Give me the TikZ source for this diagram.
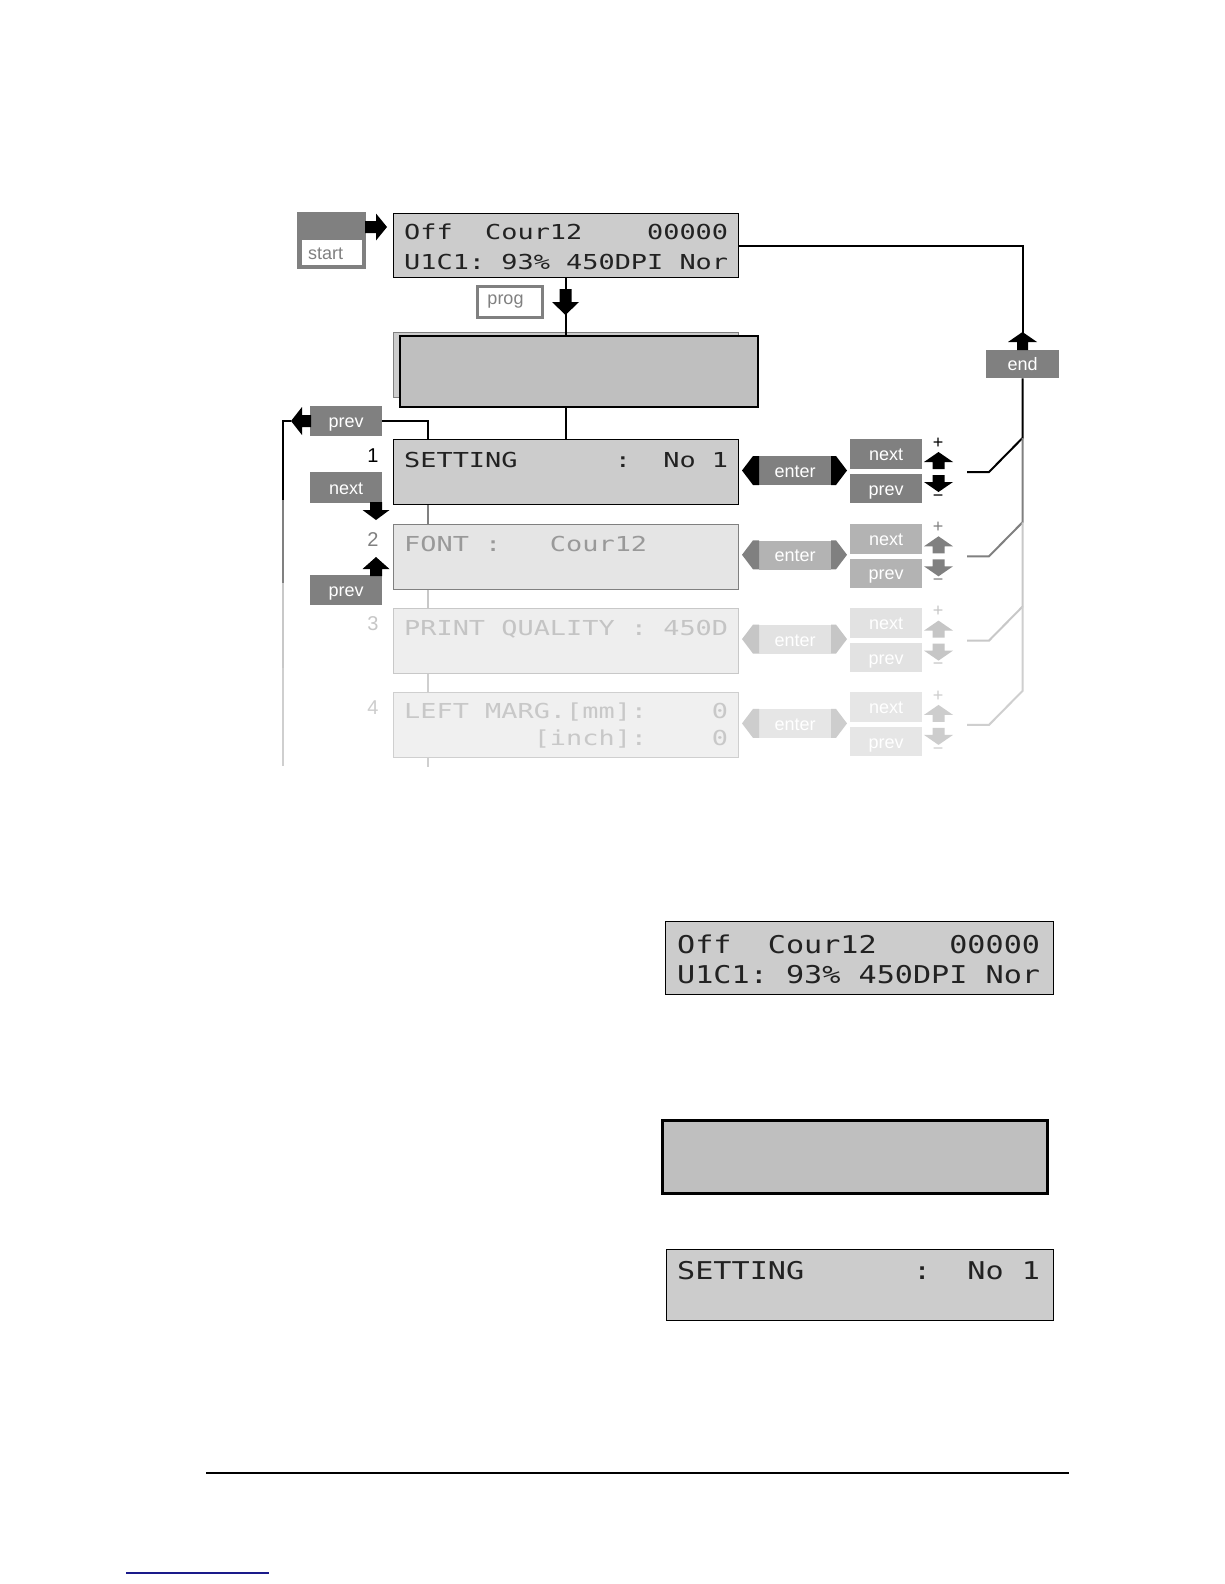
\documentclass[tikz,border=0pt]{standalone}
\usepackage{fontspec}
\setmainfont{Liberation Sans}
\newfontfamily\lcdA[FakeStretch=1.306]{DejaVu Sans Mono}
\newfontfamily\lcdB[FakeStretch=1.23]{DejaVu Sans Mono}
\usetikzlibrary{calc}
\definecolor{bA}{HTML}{808080}
\definecolor{bB}{HTML}{B3B3B3}
\definecolor{bC}{HTML}{E2E2E2}
\definecolor{bD}{HTML}{E6E6E6}
\definecolor{aA}{HTML}{000000}
\definecolor{aB}{HTML}{808080}
\definecolor{aC}{HTML}{C6C6C6}
\definecolor{aD}{HTML}{CDCDCD}
\definecolor{lB}{HTML}{808080}
\definecolor{lC}{HTML}{C8C8C8}
\definecolor{lD}{HTML}{CFCFCF}
\definecolor{fA}{HTML}{CCCCCC}
\definecolor{fB}{HTML}{E5E5E5}
\definecolor{fC}{HTML}{EEEEEE}
\definecolor{fD}{HTML}{F0F0F0}
\definecolor{tA}{HTML}{222222}
\definecolor{tB}{HTML}{999999}
\definecolor{tC}{HTML}{C4C4C4}
\definecolor{tD}{HTML}{C8C8C8}
\definecolor{navy}{HTML}{1A1A8A}
% color, tip, angle, head length, head half width, shaft length, shaft half width
\newcommand\barrow[7]{%
  \fill[#1,shift={#2},rotate=#3] (0,0) -- (-#4,#5) -- (-#4,#7) -- (-#4-#6,#7) -- (-#4-#6,-#7) -- (-#4,-#7) -- (-#4,-#5) -- cycle;}
\tikzset{
  lcdbox/.style={draw=black, line width=1pt, fill=fA, inner sep=0, anchor=north west, minimum width=345pt, minimum height=65pt},
  lcdtext/.style={anchor=base west, inner sep=0, font=\fontsize{20.6}{20.6}\lcdA},
  lcdtextB/.style={anchor=base west, inner sep=0, font=\fontsize{24.5}{24.5}\lcdB},
  btn/.style={fill=#1, text=white, inner sep=0, anchor=north west, minimum width=72pt, minimum height=30pt, text height=13.5pt, text depth=0pt, font=\fontsize{18}{18}\selectfont},
  numlbl/.style={inner sep=0, font=\fontsize{20}{20}\selectfont},
  pm/.style={inner sep=0, font=\fontsize{18}{18}\selectfont},
  conn/.style={line width=2pt},
}
\begin{document}
\begin{tikzpicture}[x=1pt,y=-1pt]
\useasboundingbox (0,0) rectangle (1224,1584);
\fill[white] (0,0) rectangle (1224,1584);

% ---------- top display and start ----------
\node[fill=bA, anchor=north west, minimum width=69pt, minimum height=57pt, inner sep=0] (startbox) at (297,212) {};
\node[fill=white, anchor=north west, minimum width=60pt, minimum height=25pt, inner sep=0] (startin) at (302,240) {};
\node[anchor=west, inner sep=0, text=bA, font=\fontsize{18}{18}\selectfont] (start) at (308,253.5) {start};
\node[lcdbox, minimum height=64pt] (d1) at (393,213) {};
\node[lcdtext, text=tA] (d1a) at (404,239) {Off~~Cour12~~~~00000};
\node[lcdtext, text=tA] (d1b) at (404,269) {U1C1:~93\%~450DPI~Nor};
\barrow{black}{(387,227)}{0}{11}{13.5}{11}{6}

\node[draw=bA, line width=3pt, fill=white, anchor=north west, minimum width=65pt, minimum height=31pt, inner sep=0] (progbox) at (475.5,284.5) {};
\node[inner sep=0, text=bA, font=\fontsize{18}{18}\selectfont] (prog) at (505.5,302) {prog};

% ---------- blank double display ----------
\node[draw=bA, line width=0.8pt, fill=fA, anchor=north west, minimum width=345pt, minimum height=65pt, inner sep=0] (box2b) at (393,332) {};
\node[draw=black, line width=2pt, fill=white!75!black, anchor=north west, minimum width=358pt, minimum height=71pt, inner sep=0] (box2f) at (398.5,334.5) {};

% ---------- rows of the menu ----------
\node[lcdbox] (s1) at (393,439) {};
\node[lcdtext, text=tA] (s1a) at (404,467) {SETTING~~~~~~:~~No~1};
\node[lcdbox, draw=lB, fill=fB] (f2) at (393,523.8) {};
\node[lcdtext, text=tB] (f2a) at (404,551.5) {FONT~:~~~Cour12};
\node[lcdbox, draw=lC, fill=fC] (p3) at (393,607.8) {};
\node[lcdtext, text=tC] (p3a) at (404,635) {PRINT~QUALITY~:~450D};
\node[lcdbox, draw=lD, fill=fD] (l4) at (393,691.8) {};
\node[lcdtext, text=tD] (l4a) at (404,718.5) {LEFT~MARG.[mm]:~~~~0};
\node[lcdtext, text=tD] (l4b) at (404,745.5) {~~~~~~~~[inch]:~~~~0};

\node[numlbl, text=black] (n1) at (373,456) {1};
\node[numlbl, text=bA] (n2) at (373,540) {2};
\node[numlbl, text=aC] (n3) at (373,624) {3};
\node[numlbl, text=aD] (n4) at (373,708) {4};

% left buttons
\node[btn=bA] (prevT) at (310,406) {prev};
\node[btn=bA, minimum height=31pt] (nextL) at (310,472) {next};
\node[btn=bA] (prevL) at (310,575) {prev};

% end button
\node[btn=bA, minimum width=73pt, minimum height=28pt] (end) at (986,350) {end};

% ---------- connectors ----------
\draw[conn] (d1.south) -- (d1.south |- box2f.north);
\draw[conn] (box2f.south -| s1.north) -- (s1.north);
\barrow{black}{(565.5,315)}{-90}{13}{13.5}{13}{6}

\draw[conn] ($(s1.north west)+(35,0)$) |- (prevT.east);
\draw[conn, lB] ($(s1.south west)+(35,0)$) -- ($(f2.north west)+(35,0)$);
\draw[conn, lC] ($(f2.south west)+(35,0)$) -- ($(p3.north west)+(35,0)$);
\draw[conn, lD] ($(p3.south west)+(35,0)$) -- ($(l4.north west)+(35,0)$);
\draw[conn, lD] ($(l4.south west)+(35,0)$) -- ++(0,9);

\barrow{black}{(291,421)}{180}{11}{14}{9}{6}
\draw[conn] (291,421) -| (283,500);
\draw[conn, lB] (283,500) -- (283,583);
\draw[conn, lC] (283,583) -- (283,668);
\draw[conn, lD] (283,668) -- (283,766);

\barrow{black}{(376,520)}{-90}{10}{13.5}{8}{6}
\barrow{black}{(376,557)}{90}{12}{13.5}{7}{6}

\draw[conn] (d1.east) -| (end.north);
\barrow{black}{(1022.5,332)}{90}{10}{14.5}{8}{5.5}
\draw[conn] (end.south) -- (1022.5,438) -- (989,472) -- (967,472);

% right side per row
\foreach \i/\T/\bc/\ac/\lc in {1/439/bA/aA/black, 2/523.3/bB/aB/lB, 3/607.6/bC/aC/lC, 4/691.9/bD/aD/lD}{
  \node[btn=\bc, minimum height=29pt] (enter\i) at (759,\T+17) {enter};
  \fill[\ac] (759,\T+17) -- (753,\T+17) -- (742,\T+31.5) -- (753,\T+46) -- (759,\T+46) -- cycle;
  \fill[\ac] (831,\T+17) -- (836,\T+17) -- (847,\T+31.5) -- (836,\T+46) -- (831,\T+46) -- cycle;
  \node[btn=\bc] (next\i) at (850,\T) {next};
  \node[btn=\bc, minimum height=29pt] (prev\i) at (850,\T+35) {prev};
  \barrow{\ac}{(938.5,\T+13)}{90}{10}{14.5}{7}{6}
  \barrow{\ac}{(938.5,\T+53)}{-90}{10}{14.5}{7}{6}
  \node[pm, text=\ac] (plus\i) at (938,\T+4) {+};
  \node[pm, text=\ac] (minus\i) at (938,\T+59) {−};
}
\draw[conn, lB] (1022.5,438) -- (1022.5,522.3) -- (989,556.3) -- (967,556.3);
\draw[conn, lC] (1022.5,522.3) -- (1022.5,606.6) -- (989,640.6) -- (967,640.6);
\draw[conn, lD] (1022.5,606.6) -- (1022.5,690.9) -- (989,724.9) -- (967,724.9);

% ---------- lower displays ----------
\node[lcdbox, minimum width=388pt, minimum height=73pt] (dA) at (665,921) {};
\node[lcdtextB, text=tA] (dAa) at (677,953) {Off~~Cour12~~~~00000};
\node[lcdtextB, text=tA] (dAb) at (677,983) {U1C1:~93\%~450DPI~Nor};
\node[draw=black, line width=2.5pt, fill=white!75!black, anchor=north west, minimum width=385pt, minimum height=73pt, inner sep=0] (dB) at (661,1119) {};
\node[lcdbox, minimum width=387pt, minimum height=71pt] (dC) at (666,1249) {};
\node[lcdtextB, text=tA] (dCa) at (677,1279) {SETTING~~~~~~:~~No~1};

% ---------- page rules ----------
\draw[line width=2.5pt] (206,1473) -- (1069,1473);
\draw[line width=1.5pt, navy] (126,1573) -- (269,1573);
\end{tikzpicture}
\end{document}
